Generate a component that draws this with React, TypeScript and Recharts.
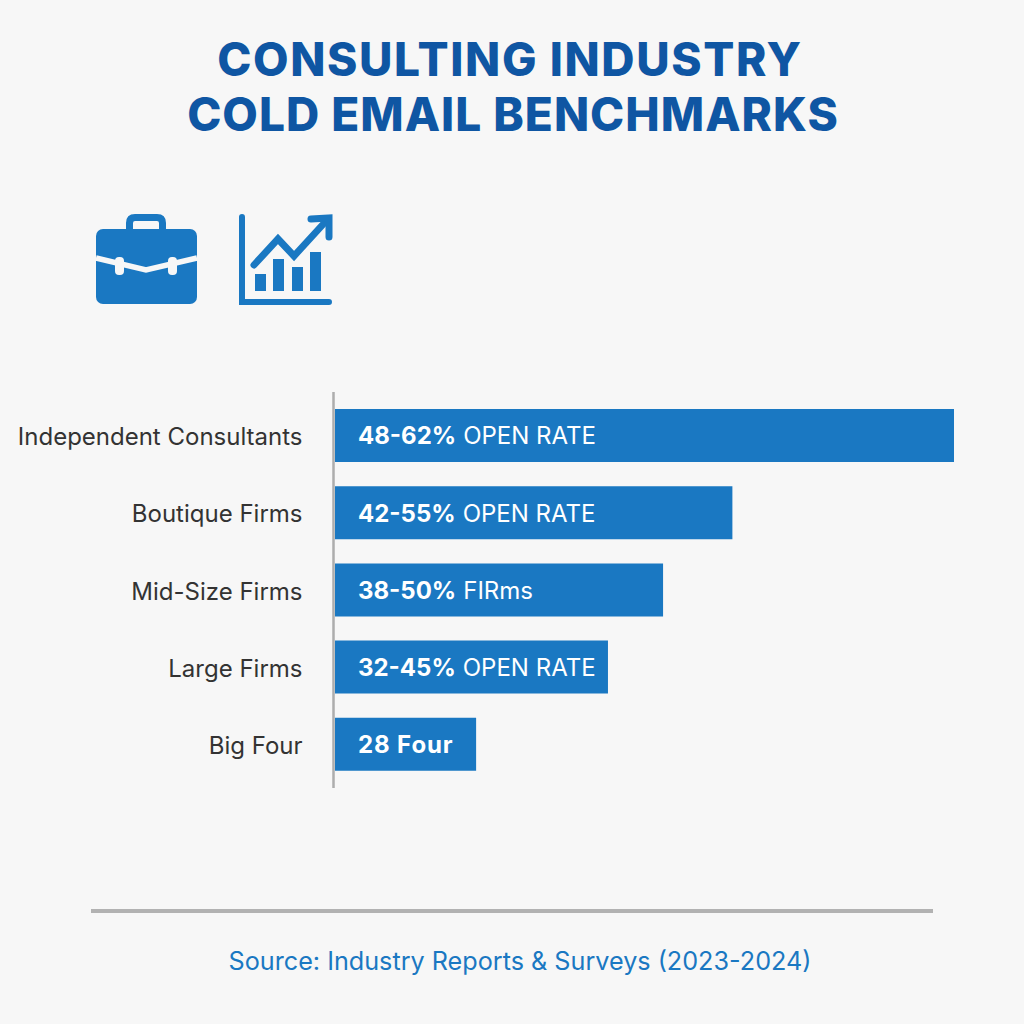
import { BarChart, Bar, XAxis, YAxis, LabelList } from 'recharts';

const categories = ['Independent Consultants', 'Boutique Firms', 'Mid-Size Firms', 'Large Firms', 'Big Four'];
// bar lengths as a share of the longest bar, they don't follow the printed ranges
const barLengths = [100, 64.2, 53, 44.1, 22.8];
const boldLabels = ['48-62%', '42-55%', '38-50%', '32-45%', '28 Four'];
const lightLabels = ['OPEN RATE', 'OPEN RATE', 'FIRms', 'OPEN RATE', ''];

const data = categories.map((name, i) => ({
    name,
    length: barLengths[i],
    label: i,
}));

const BLUE = '#1a78c2';
const PAGE = '#f7f7f7';
const FONT = 'Inter, sans-serif';

function BarText(props: any) {
    const { x, y, height, value } = props;
    return (
        <text x={x + 23} y={y + height / 2 + 9} fontFamily={FONT} fontSize={24} fill="#ffffff">
            <tspan fontWeight={700} letterSpacing={lightLabels[value] ? 0 : 0.9}>{boldLabels[value]}</tspan>
            {lightLabels[value] ? <tspan dx={7} fontWeight={400}>{lightLabels[value]}</tspan> : null}
        </text>
    );
}

function Icons() {
    return (
        <svg width={1024} height={340} style={{ position: 'absolute', left: 0, top: 0 }}>
            {/* briefcase */}
            <path d="M129.5 229v-6q0-5.5 5.5-5.5h22q5.500 0 5.500 5.500v6" fill="none" stroke={BLUE} strokeWidth={7} />
            <rect x={96} y={229} width={101} height={75} rx={7} fill={BLUE} />
            <path d="M96 258L146 270L197 258" fill="none" stroke={PAGE} strokeWidth={5.5} />
            <rect x={115} y={257} width={9} height={18} rx={4} fill={PAGE} />
            <rect x={168} y={257} width={9} height={18} rx={4} fill={PAGE} />
            {/* growth chart */}
            <path d="M242 217V302H329" fill="none" stroke={BLUE} strokeWidth={6} strokeLinecap="round" />
            <rect x={255} y={274} width={11} height={17} fill={BLUE} />
            <rect x={273} y={259} width={11} height={32} fill={BLUE} />
            <rect x={292} y={267} width={11} height={24} fill={BLUE} />
            <rect x={310} y={252} width={11} height={39} fill={BLUE} />
            <path d="M254 265L278 239L294 256L327 220" fill="none" stroke={BLUE} strokeWidth={7} strokeLinecap="round" />
            <path d="M311 219L329 218V237" fill="none" stroke={BLUE} strokeWidth={7} strokeLinecap="round" />
        </svg>
    );
}

export default function App() {
    return (
        <div style={{ position: 'absolute', left: 0, top: 0, width: 1024, height: 1024, background: PAGE, fontFamily: FONT, overflow: 'hidden' }}>
            <div style={{ position: 'absolute', left: 0, top: 32, width: 1024, textAlign: 'center', color: '#0f56a3', fontSize: 46, fontWeight: 800, lineHeight: '55px' }}>
                <div style={{ marginLeft: -4, letterSpacing: 1.6 }}>CONSULTING INDUSTRY</div>
                <div style={{ marginLeft: 2, letterSpacing: 1 }}>COLD EMAIL BENCHMARKS</div>
            </div>

            <Icons />

            <div style={{ position: 'absolute', left: 0, top: 0 }}>
                <BarChart
                    width={1024}
                    height={1024}
                    data={data}
                    layout="vertical"
                    margin={{ top: 392, right: 70, bottom: 236, left: 0 }}
                >
                    <XAxis type="number" hide domain={[-0.24, 100]} />
                    <YAxis
                        type="category"
                        dataKey="name"
                        width={333.5}
                        interval={0}
                        padding={{ top: 4.9, bottom: 4.9 }}
                        tickLine={false}
                        tickMargin={25}
                        axisLine={{ stroke: '#adadad', strokeWidth: 2.5 }}
                        tick={{ fontSize: 24, fontFamily: FONT, fill: '#333333', dy: 1 }}
                    />
                    <Bar dataKey="length" fill={BLUE} barSize={53} isAnimationActive={false}>
                        <LabelList dataKey="label" content={BarText} />
                    </Bar>
                </BarChart>
            </div>

            <div style={{ position: 'absolute', left: 91, top: 909, width: 842, height: 4, background: '#b2b2b2' }} />
            <div style={{ position: 'absolute', left: 0, top: 946, width: 1040, textAlign: 'center', color: BLUE, fontSize: 25.2 }}>
                Source: Industry Reports &amp; Surveys (2023-2024)
            </div>
        </div>
    );
}
